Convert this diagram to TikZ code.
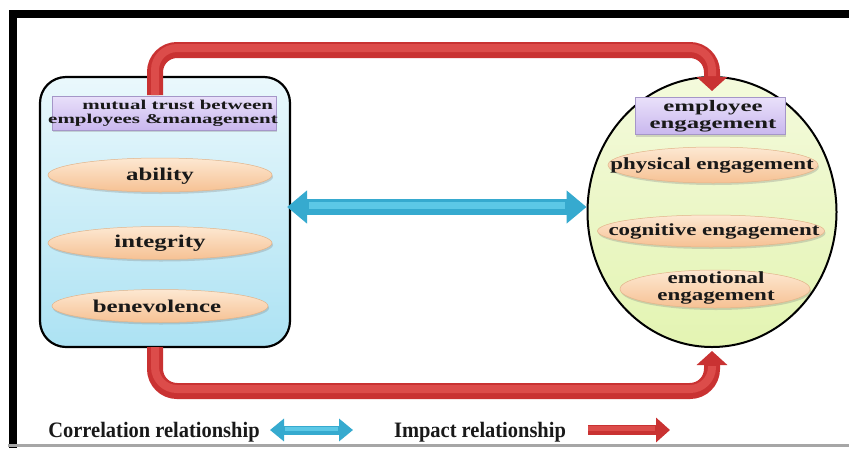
\documentclass[tikz,border=0pt]{standalone}
\usepackage{fontspec}
\setmainfont{Liberation Serif}
\usepackage{graphicx}
\usetikzlibrary{arrows.meta,shadows,shapes.geometric,calc}
\definecolor{peachT}{HTML}{FDE8D2}
\definecolor{peachB}{HTML}{F6C193}
\definecolor{peachD}{HTML}{E2B48A}
\definecolor{blueT}{HTML}{EAF8FC}
\definecolor{blueB}{HTML}{ACE2F3}
\definecolor{greenT}{HTML}{F4FADC}
\definecolor{greenB}{HTML}{E3F4B2}
\definecolor{lavT}{HTML}{E9E0FA}
\definecolor{lavB}{HTML}{C9B7EE}
\definecolor{lavD}{HTML}{A596C8}
\definecolor{redM}{HTML}{C93232}
\definecolor{redL}{HTML}{DC4C4A}
\definecolor{cyanM}{HTML}{36AACF}
\definecolor{cyanL}{HTML}{5CC8E6}
\newcommand{\hs}[2]{\scalebox{#1}[1]{#2}}
\newcommand{\twol}[2]{\begin{tabular}{@{}c@{}}#1\\#2\end{tabular}}
\begin{document}
\begin{tikzpicture}[x=1pt,y=-1pt,
  font=\bfseries,
  ovalbox/.style={ellipse, draw=peachD, line width=0.5pt, top color=peachT, bottom color=peachB,
    drop shadow={opacity=0.3,shadow xshift=1pt,shadow yshift=-2pt}, inner sep=0pt},
  titlebox/.style={rectangle, draw=lavD, line width=0.6pt, top color=lavT, bottom color=lavB,
    drop shadow={opacity=0.3,shadow xshift=1pt,shadow yshift=-2pt}, inner sep=0pt},
  txt/.style={inner sep=0pt, text=black!90},
  impact/.style={draw=redM, line width=16pt, rounded corners=22pt,
    -{Triangle[length=14pt,width=30pt]}},
  impacthl/.style={draw=redL, line width=8pt, rounded corners=22pt, shorten >=15pt},
  corr/.style={draw=cyanM, line width=16pt,
    {Triangle[length=20pt,width=32pt]}-{Triangle[length=20pt,width=32pt]}},
  corrhl/.style={draw=cyanL, line width=7pt, shorten >=22pt, shorten <=22pt},
]
\fill[white] (0,0) rectangle (849,448);
\useasboundingbox (0,0) rectangle (849,448);

% frame
\draw[black, line width=8pt] (12.5,448) -- (12.5,13.5) -- (849,13.5);
\draw[gray!70, line width=2.5pt] (8,445.5) -- (849,445.5);

% main containers
\node[rectangle, rounded corners=26pt, draw=black, line width=2.2pt, top color=blueT, bottom color=blueB,
  minimum width=250pt, minimum height=270pt] (lbox) at (165,212) {};
\node[ellipse, draw=black, line width=2pt, top color=greenT, bottom color=greenB,
  minimum width=249pt, minimum height=270pt] (rell) at (712,212) {};

% impact arrows
\coordinate (tA) at (155,95);
\coordinate (bA) at (155,347);
\draw[impact] (tA) -- (155,50) -- (712,50) -- ([yshift=-15pt]rell.north);
\draw[impacthl] (tA) -- (155,48) -- (712,48) -- ([yshift=-15pt]rell.north);
\draw[impact] (bA) -- (155,391) -- (712,391) -- ([yshift=-3pt]rell.south);
\draw[impacthl] (bA) -- (155,389) -- (712,389) -- ([yshift=-3pt]rell.south);

% correlation arrow
\draw[corr] ([xshift=-4pt,yshift=5pt]lbox.east) -- ([yshift=5pt]rell.west);
\draw[corrhl] ([xshift=-4pt,yshift=7pt]lbox.east) -- ([yshift=7pt]rell.west);

% left contents
\node[titlebox, minimum width=224pt, minimum height=34pt] (ltitle) at (164,113) {};
\node[txt] (ltitleT) at (163,114) {\hs{1.55}{\fontsize{13.5}{14}\selectfont\twol{\hspace*{19pt}mutual trust between}{employees \&management}}};
\node[ovalbox, minimum width=224pt, minimum height=34pt] (abil) at (160,175) {};
\node[txt] (abilT) at (160,176) {\hs{1.38}{\fontsize{18}{18}\selectfont ability}};
\node[ovalbox, minimum width=224pt, minimum height=33pt] (integ) at (160,243) {};
\node[txt] (integT) at (160,243) {\hs{1.38}{\fontsize{18}{18}\selectfont integrity}};
\node[ovalbox, minimum width=216pt, minimum height=33pt] (benev) at (160,306) {};
\node[txt] (benevT) at (157,306) {\hs{1.38}{\fontsize{18}{18}\selectfont benevolence}};

% right contents
\node[titlebox, minimum width=150pt, minimum height=37pt] (rtitle) at (710,116) {};
\node[txt] (rtitleT) at (713,117) {\hs{1.55}{\fontsize{16}{17}\selectfont\twol{employee}{engagement}}};
\node[ovalbox, minimum width=210pt, minimum height=36pt] (phys) at (713,165) {};
\node[txt] (physT) at (712,165) {\hs{1.35}{\fontsize{17}{17}\selectfont physical engagement}};
\node[ovalbox, minimum width=227pt, minimum height=32pt] (cogn) at (711,231) {};
\node[txt] (cognT) at (714,231) {\hs{1.35}{\fontsize{17}{17}\selectfont cognitive engagement}};
\node[ovalbox, minimum width=190pt, minimum height=38pt] (emot) at (715,289) {};
\node[txt] (emotT) at (716,289) {\hs{1.35}{\fontsize{17}{17}\selectfont\twol{emotional}{engagement}}};

% legend
\node[txt, anchor=base] (lgc) at (154,437) {\hs{0.93}{\fontsize{22}{22}\selectfont Correlation relationship}};
\coordinate (lc1) at (270,430);
\coordinate (lc2) at (353,430);
\draw[draw=cyanM, line width=9pt, {Triangle[length=14pt,width=22pt]}-{Triangle[length=14pt,width=22pt]}] (lc1) -- (lc2);
\draw[draw=cyanL, line width=4pt, shorten <=15pt, shorten >=15pt] ([yshift=1.5pt]lc1) -- ([yshift=1.5pt]lc2);
\node[txt, anchor=base] (lgi) at (480,437) {\hs{0.93}{\fontsize{22}{22}\selectfont Impact relationship}};
\coordinate (li1) at (588,430);
\coordinate (li2) at (670,430);
\draw[draw=redM, line width=10pt, -{Triangle[length=14pt,width=24pt]}] (li1) -- (li2);
\draw[draw=redL, line width=5pt, shorten >=15pt] ([yshift=1.5pt]li1) -- ([yshift=1.5pt]li2);
\end{tikzpicture}
\end{document}
